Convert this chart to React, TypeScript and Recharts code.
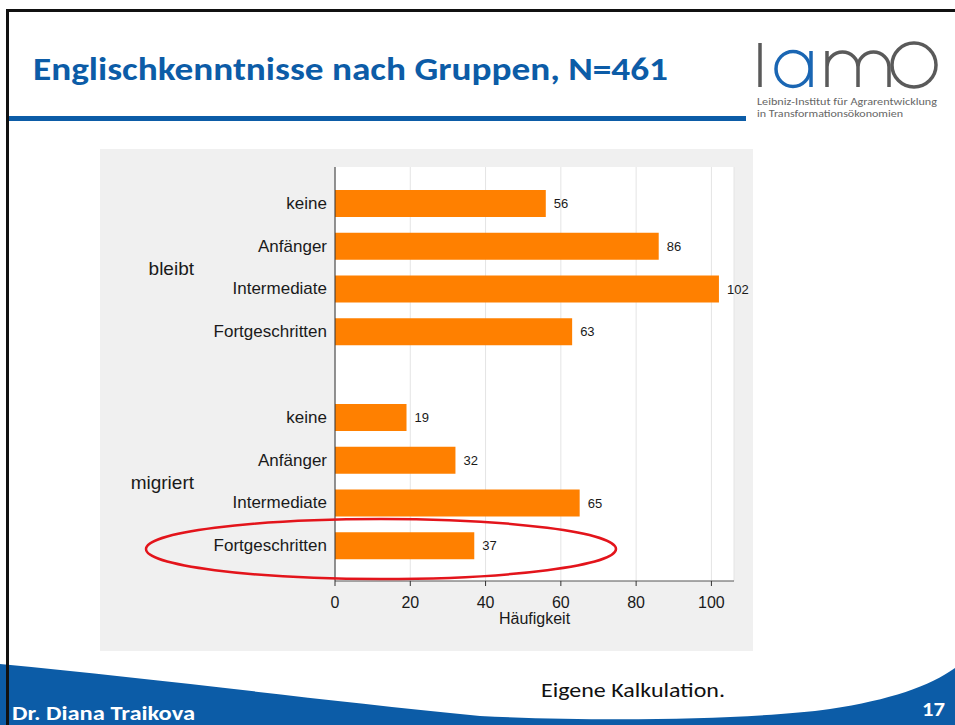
import { BarChart, Bar, XAxis, YAxis, CartesianGrid, LabelList } from "recharts"

// survey counts
const groups = ["bleibt", "migriert"]
const levels = ["keine", "Anfänger", "Intermediate", "Fortgeschritten"]
const bleibtCounts = [56, 86, 102, 63]
const migriertCounts = [19, 32, 65, 37]
const xTicks = [0, 20, 40, 60, 80, 100]

const countsByGroup = [bleibtCounts, migriertCounts]

type Row = { key: string; level: string; value: number | null; groupLabel?: string }

const rows: Row[] = []
groups.forEach((g, gi) => {
  if (gi > 0) rows.push({ key: "gap", level: "", value: null })
  levels.forEach((lvl, li) => {
    rows.push({
      key: `${g}-${lvl}`,
      level: lvl,
      value: countsByGroup[gi][li],
      groupLabel: li === 1 ? g : undefined,
    })
  })
})
const rowByKey: Record<string, Row> = Object.fromEntries(rows.map((r) => [r.key, r]))

const BLUE = "#0c5ca7"
const SANS = "'Liberation Sans', Arial, sans-serif"
const SLIDE = "Carlito, 'Open Sans', sans-serif"

const LevelTick = ({ x, y, payload }: any) => {
  const row = rowByKey[payload.value]
  if (!row || !row.level) return <g />
  return (
    <g>
      <text x={x} y={y} textAnchor="end" dominantBaseline="central" fontSize={17} fill="#1a1a1a">
        {row.level}
      </text>
      {row.groupLabel && (
        <text x={94} y={y + 22} textAnchor="end" dominantBaseline="central" fontSize={19} fill="#1a1a1a">
          {row.groupLabel}
        </text>
      )}
    </g>
  )
}

const Slide = () => (
  <svg width={955} height={725} style={{ position: "absolute", left: 0, top: 0 }}>
    {/* title */}
    <text x={33} y={80} fontFamily={SLIDE} fontWeight={700} fontSize={33} fill={BLUE} textLength={635} lengthAdjust="spacingAndGlyphs">
      Englischkenntnisse nach Gruppen, N=461
    </text>
    <rect x={9} y={116} width={737} height={5} fill={BLUE} />

    {/* logo */}
    <g fill="none" strokeWidth={3.5}>
      <line x1={760} y1={43} x2={760} y2={87} stroke="#5a5a5a" />
      <ellipse cx={793} cy={69} rx={17} ry={17.5} stroke="#1a66b3" />
      <line x1={811} y1={51} x2={811} y2={87} stroke="#1a66b3" />
      <path d="M827,87 V67 A15.5,15 0 0 1 858,67 V87 M858,67 A15.5,15 0 0 1 889,67 V87 M827,51 V67" stroke="#5a5a5a" />
      <ellipse cx={914} cy={65} rx={22} ry={22} stroke="#5a5a5a" />
    </g>
    <text x={757} y={105} fontFamily={SLIDE} fontSize={10.5} fill="#666" textLength={180} lengthAdjust="spacingAndGlyphs">
      Leibniz-Institut für Agrarentwicklung
    </text>
    <text x={757} y={117} fontFamily={SLIDE} fontSize={10.5} fill="#666" textLength={146} lengthAdjust="spacingAndGlyphs">
      in Transformationsökonomien
    </text>

    {/* footer band */}
    <path
      d="M0,664 C150,678 300,698 480,716 C600,722 750,720 830,709 C890,700 930,686 955,668 L955,725 L0,725 Z"
      fill={BLUE}
    />
    <text x={541} y={697} fontFamily={SLIDE} fontSize={20} fill="#111" textLength={184} lengthAdjust="spacingAndGlyphs">
      Eigene Kalkulation.
    </text>
    <text x={12} y={720} fontFamily={SLIDE} fontWeight={700} fontSize={20} fill="#fff" textLength={183} lengthAdjust="spacingAndGlyphs">
      Dr. Diana Traikova
    </text>
    <text x={922} y={716} fontFamily={SLIDE} fontWeight={700} fontSize={20} fill="#fff" textLength={23} lengthAdjust="spacingAndGlyphs">
      17
    </text>

    {/* frame */}
    <rect x={6} y={9} width={949} height={3} fill="#111" />
    <rect x={6} y={9} width={3} height={716} fill="#111" />
  </svg>
)

export default function App() {
  return (
    <div style={{ position: "absolute", left: 0, top: 0, width: 955, height: 725, background: "#fff", overflow: "hidden" }}>
      <Slide />

      {/* Stata-style panel */}
      <div style={{ position: "absolute", left: 100, top: 149, width: 653, height: 502, background: "#f0f0f0" }}>
        <BarChart
          layout="vertical"
          width={653}
          height={502}
          data={rows}
          margin={{ top: 18, right: 19, left: 0, bottom: 0 }}
          style={{ fontFamily: SANS }}
        >
          <CartesianGrid horizontal={false} stroke="#e4e4e4" fill="#fff" fillOpacity={1} />
          <XAxis
            type="number"
            domain={[0, 106]}
            ticks={xTicks}
            height={70}
            tickSize={5}
            tickMargin={11}
            axisLine={{ stroke: "#555" }}
            tickLine={{ stroke: "#333" }}
            tick={{ fontSize: 16, fill: "#1a1a1a" }}
            label={{ value: "Häufigkeit", position: "insideBottom", offset: 27, fontSize: 16, fill: "#1a1a1a" }}
          />
          <YAxis
            type="category"
            dataKey="key"
            width={235}
            padding={{ top: 15, bottom: 14 }}
            axisLine={{ stroke: "#333" }}
            tickLine={false}
            tick={<LevelTick />}
            interval={0}
          />
          <Bar dataKey="value" fill="#ff8000" barSize={27} isAnimationActive={false}>
            <LabelList dataKey="value" position="right" offset={8} fontSize={13} fill="#1a1a1a" />
          </Bar>
        </BarChart>
      </div>

      {/* red highlight round the last row */}
      <svg width={955} height={725} style={{ position: "absolute", left: 0, top: 0, pointerEvents: "none" }}>
        <ellipse cx={381} cy={549} rx={235} ry={30} fill="none" stroke="#e3141b" strokeWidth={2.5} />
      </svg>
    </div>
  )
}
